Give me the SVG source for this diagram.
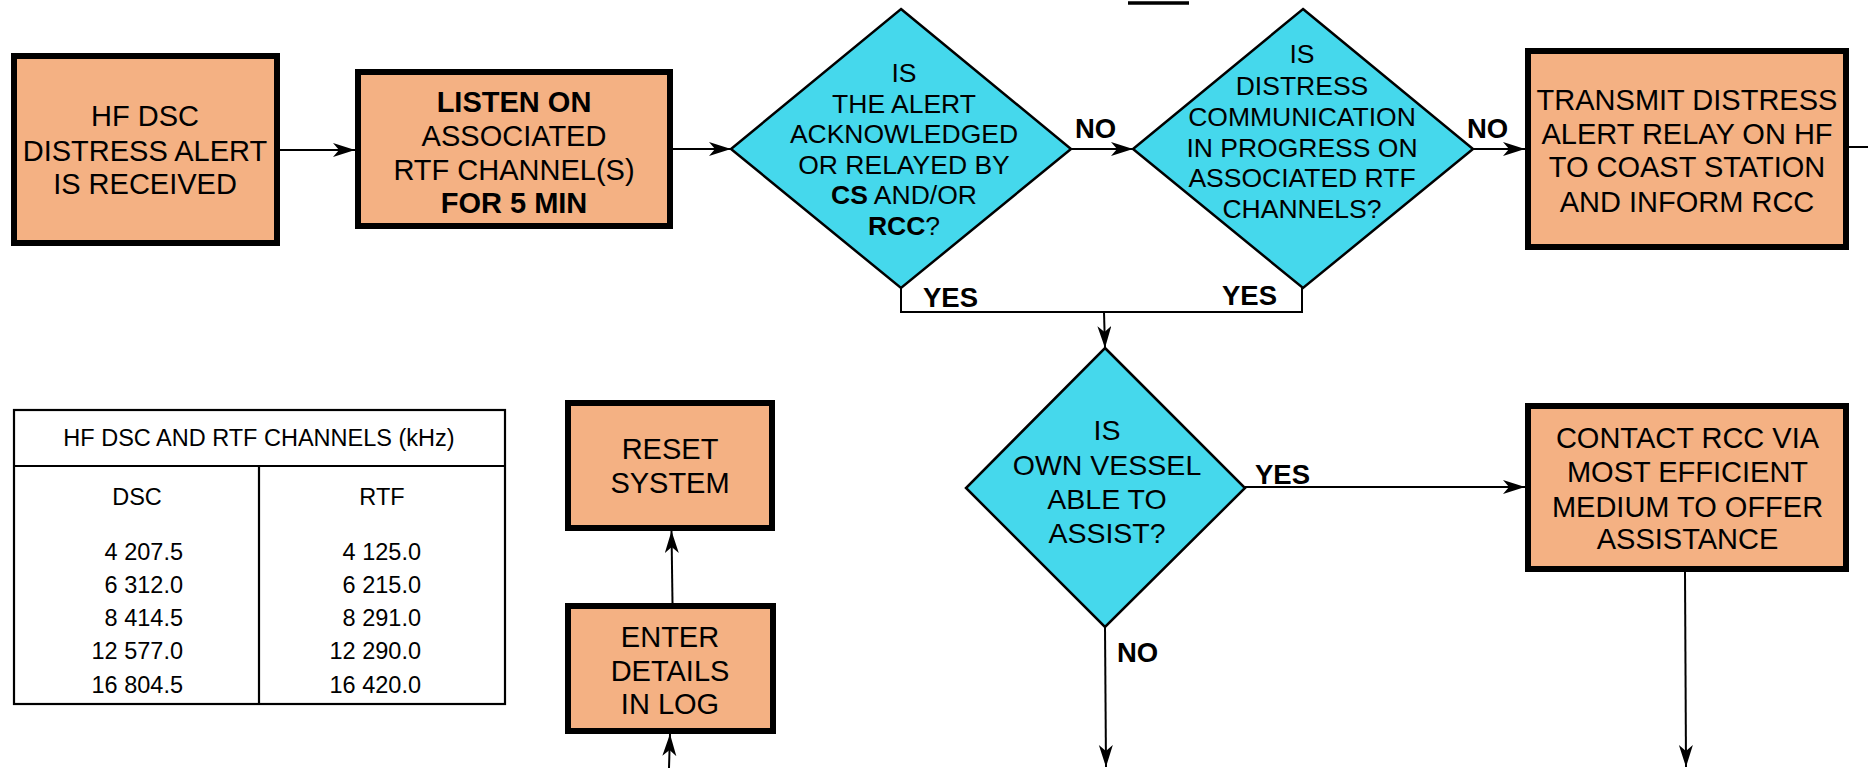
<svg xmlns="http://www.w3.org/2000/svg" width="1868" height="768" viewBox="0 0 1868 768">
<style>
.box{fill:#F4B183;stroke:#000;stroke-width:6}
.dia{fill:#45D8EC;stroke:#000;stroke-width:2.5}
.t{font-family:"Liberation Sans",Arial,sans-serif;fill:#000;text-anchor:middle}
.bt{font-size:29px}
.dt{font-size:26.5px}
.b{font-weight:bold}
.lbl{font-family:"Liberation Sans",Arial,sans-serif;font-weight:bold;font-size:27.5px;fill:#000}
.tb{font-family:"Liberation Sans",Arial,sans-serif;font-size:23.5px;fill:#000}
.con{fill:none;stroke:#000;stroke-width:2}
.arr{marker-end:url(#ah)}
.tbl{fill:none;stroke:#000;stroke-width:2.2}
</style>
<defs>
<marker id="ah" markerUnits="userSpaceOnUse" markerWidth="24" markerHeight="16" refX="22" refY="7" orient="auto">
<path d="M0,0 L22,7 L0,14 L6,7 Z" fill="#000"/>
</marker>
</defs>
<rect x="0" y="0" width="1868" height="768" fill="#fff"/>

<g id="connectors">
<path class="con arr" d="M280,150 L355,150"/>
<path class="con arr" d="M673,149 L731,149"/>
<path class="con arr" d="M1071,149 L1133,149"/>
<path class="con arr" d="M1473,149 L1525,149"/>
<path class="con" d="M1849,147 L1868,147"/>
<path class="con" d="M901,288 L901,312 L1302,312 L1302,288"/>
<path class="con arr" d="M1104,312 L1105,348"/>
<path class="con arr" d="M1245,487 L1525,487"/>
<path class="con arr" d="M1105,627 L1106,767"/>
<path class="con arr" d="M1685,572 L1686,767"/>
<path class="con arr" d="M672.5,603 L671.5,531"/>
<path class="con arr" d="M669,768 L670,734"/>
<path d="M1128,3 L1189,3" stroke="#000" stroke-width="3.5"/>
</g>

<g id="n-received">
<rect class="box" x="14" y="56" width="263" height="187"/>
<text class="t bt" x="145" y="126">HF DSC</text>
<text class="t bt" x="145" y="160.5">DISTRESS ALERT</text>
<text class="t bt" x="145" y="194">IS RECEIVED</text>
</g>

<g id="n-listen">
<rect class="box" x="358" y="72" width="312" height="154"/>
<text class="t bt b" x="514" y="111.5">LISTEN ON</text>
<text class="t bt" x="514" y="146">ASSOCIATED</text>
<text class="t bt" x="514" y="180">RTF CHANNEL(S)</text>
<text class="t bt b" x="514" y="213">FOR 5 MIN</text>
</g>

<g id="d-ack">
<polygon class="dia" points="901,9 1071,149 901,288 731,149"/>
<text class="t dt" x="904" y="81.5">IS</text>
<text class="t dt" x="904" y="112.5">THE ALERT</text>
<text class="t dt" x="904" y="143.3">ACKNOWLEDGED</text>
<text class="t dt" x="904" y="174">OR RELAYED BY</text>
<text class="t dt" x="904" y="204"><tspan class="b">CS</tspan> AND/OR</text>
<text class="t dt" x="904" y="235"><tspan class="b">RCC</tspan>?</text>
</g>

<g id="d-comm">
<polygon class="dia" points="1303,9 1473,149 1303,288 1133,149"/>
<text class="t dt" x="1302" y="63">IS</text>
<text class="t dt" x="1302" y="95">DISTRESS</text>
<text class="t dt" x="1302" y="126">COMMUNICATION</text>
<text class="t dt" x="1302" y="156.7">IN PROGRESS ON</text>
<text class="t dt" x="1302" y="187.3">ASSOCIATED RTF</text>
<text class="t dt" x="1302" y="218">CHANNELS?</text>
</g>

<g id="n-transmit">
<rect class="box" x="1528" y="51" width="318" height="196"/>
<text class="t bt" x="1687" y="110">TRANSMIT DISTRESS</text>
<text class="t bt" x="1687" y="144">ALERT RELAY ON HF</text>
<text class="t bt" x="1687" y="177">TO COAST STATION</text>
<text class="t bt" x="1687" y="211.5">AND INFORM RCC</text>
</g>

<g id="d-assist">
<polygon class="dia" points="1105,348 1245,488 1105,627 966,488"/>
<text class="t" style="font-size:28.5px" x="1107" y="440">IS</text>
<text class="t" style="font-size:28.5px" x="1107" y="475">OWN VESSEL</text>
<text class="t" style="font-size:28.5px" x="1107" y="509">ABLE TO</text>
<text class="t" style="font-size:28.5px" x="1107" y="543">ASSIST?</text>
</g>

<g id="n-contact">
<rect class="box" x="1528" y="406" width="318" height="163"/>
<text class="t bt" x="1687.5" y="448.3">CONTACT RCC VIA</text>
<text class="t bt" x="1687.5" y="481.7">MOST EFFICIENT</text>
<text class="t bt" x="1687.5" y="516.7">MEDIUM TO OFFER</text>
<text class="t bt" x="1687.5" y="549.3">ASSISTANCE</text>
</g>

<g id="n-reset">
<rect class="box" x="568" y="403" width="204" height="125"/>
<text class="t bt" x="670" y="459.3">RESET</text>
<text class="t bt" x="670" y="493.3">SYSTEM</text>
</g>

<g id="n-enter">
<rect class="box" x="568" y="606" width="205" height="125"/>
<text class="t bt" x="670" y="647.3">ENTER</text>
<text class="t bt" x="670" y="680.7">DETAILS</text>
<text class="t bt" x="670" y="714">IN LOG</text>
</g>

<g id="labels">
<text class="lbl" x="1075" y="138">NO</text>
<text class="lbl" x="1467" y="138">NO</text>
<text class="lbl" x="923" y="307">YES</text>
<text class="lbl" x="1222" y="305">YES</text>
<text class="lbl" x="1255" y="484">YES</text>
<text class="lbl" x="1117" y="662">NO</text>
</g>

<g id="table">
<rect class="tbl" x="14" y="410" width="491" height="294"/>
<path class="tbl" d="M14,466 L505,466 M259,466 L259,704"/>
<text class="tb" x="259" y="446" text-anchor="middle">HF DSC AND RTF CHANNELS (kHz)</text>
<text class="tb" x="137" y="505" text-anchor="middle">DSC</text>
<text class="tb" x="382" y="505" text-anchor="middle">RTF</text>
<g text-anchor="end">
<text class="tb" x="183" y="560">4 207.5</text>
<text class="tb" x="183" y="593.3">6 312.0</text>
<text class="tb" x="183" y="626">8 414.5</text>
<text class="tb" x="183" y="659.3">12 577.0</text>
<text class="tb" x="183" y="692.7">16 804.5</text>
<text class="tb" x="421" y="560">4 125.0</text>
<text class="tb" x="421" y="593.3">6 215.0</text>
<text class="tb" x="421" y="626">8 291.0</text>
<text class="tb" x="421" y="659.3">12 290.0</text>
<text class="tb" x="421" y="692.7">16 420.0</text>
</g>
</g>
</svg>
